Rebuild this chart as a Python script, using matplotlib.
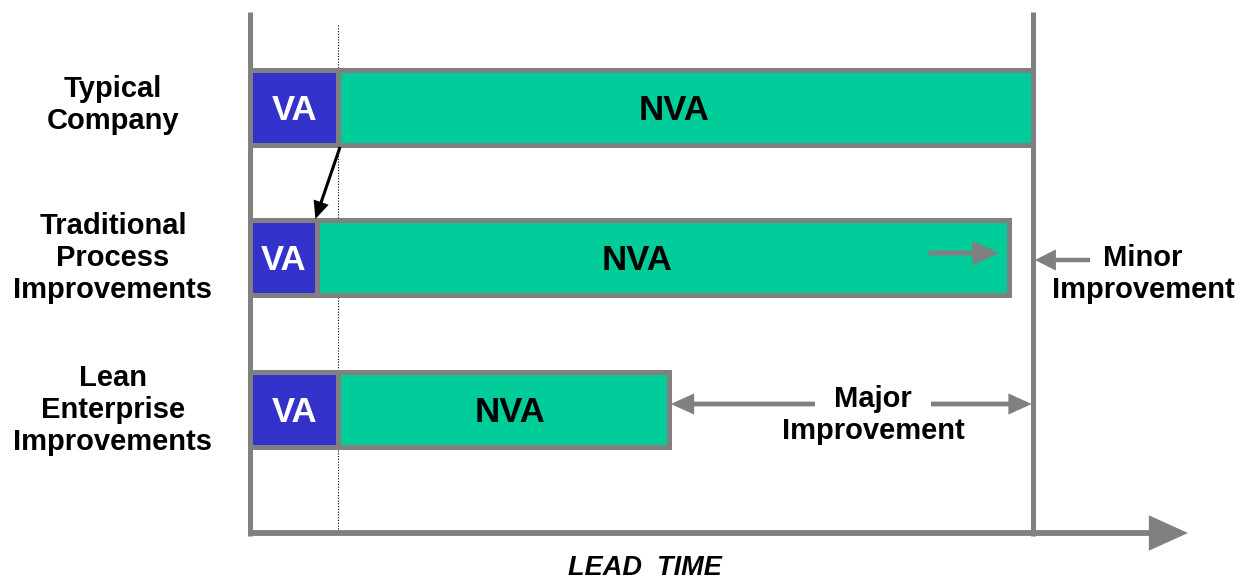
import matplotlib
matplotlib.use("Agg")
import matplotlib.pyplot as plt

plt.rcParams["font.family"] = ["Liberation Sans", "DejaVu Sans"]

# --- data -------------------------------------------------------------
categories = ["Typical\nCompany",
              "Traditional\nProcess\nImprovements",
              "Lean\nEnterprise\nImprovements"]
va_time = [11.25, 8.5, 11.25]          # value-added time
lead_time = [100.0, 97.0, 53.5]        # total lead time
segment_labels = ["VA", "NVA"]
axis_label = "LEAD  TIME"
minor_label = "Minor\nImprovement"
major_label = "Major\nImprovement"

# --- style ------------------------------------------------------------
BLUE = "#3333CC"
GREEN = "#00CC99"
GRAY = "#808080"

W, H = 1242, 580
fig = plt.figure(figsize=(W / 100, H / 100), dpi=100)
ax = fig.add_axes([0, 0, 1, 1])

# horizontal scale: time 0 sits at pixel 250.5, one time unit = 7.82 px
X0, S = 250.5, 7.82


def xd(px):
    return (px - X0) / S


ax.set_xlim(xd(0), xd(W))
ax.set_ylim(H, 0)
ax.axis("off")

rows_y = [107, 257.5, 409]
bar_h = 75
edge_lw = 3.6
nva_label_px = [674, 637, 510]


def arrow(start, end, color, lw, head_length, head_width):
    ax.annotate("", xy=end, xytext=start,
                arrowprops=dict(arrowstyle=f"-|>,head_length={head_length},"
                                           f"head_width={head_width}",
                                color=color, lw=lw, shrinkA=0, shrinkB=0,
                                capstyle="butt", joinstyle="miter"),
                zorder=6)


# stacked VA / NVA bars
for y, va, tot, nx in zip(rows_y, va_time, lead_time, nva_label_px):
    ax.barh(y, va, height=bar_h, left=0, color=BLUE,
            edgecolor=GRAY, linewidth=edge_lw, zorder=3)
    ax.barh(y, tot - va, height=bar_h, left=va, color=GREEN,
            edgecolor=GRAY, linewidth=edge_lw, zorder=3)
    ax.text(va / 2, y + 13, segment_labels[0], color="white", fontsize=25,
            fontweight="bold", ha="center", va="baseline", zorder=5)
    ax.text(xd(nx), y + 13, segment_labels[1], color="black", fontsize=25,
            fontweight="bold", ha="center", va="baseline", zorder=5)

# row labels
label_y = [105, 258, 410]
for y, lab in zip(label_y, categories):
    ax.text(xd(113), y, lab, fontsize=21, fontweight="bold", ha="center",
            va="center", linespacing=1.18, color="black")

# dotted reference at the original VA time
ax.plot([va_time[0]] * 2, [25, 533], color="black", lw=0.8,
        ls=(0, (1, 1.5)), zorder=2)

# axes frame: left axis and the typical lead-time marker
ax.plot([0, 0], [12, 536], color=GRAY, lw=3.6, solid_capstyle="butt", zorder=4)
ax.plot([lead_time[0]] * 2, [12, 536], color=GRAY, lw=3.6,
        solid_capstyle="butt", zorder=4)

# lead-time axis arrow
arrow((xd(248), 533), (xd(1188), 533), GRAY, 4.2, 2.1, 0.95)
ax.text(xd(645), 575, axis_label, fontsize=19.5, fontweight="bold",
        fontstyle="italic", ha="center", va="baseline")

# VA reduction arrow between the first two rows
arrow((va_time[0] + 0.2, 147), (va_time[1] - 0.2, 219), "black", 2.2, 0.9, 0.4)

# small shift arrow inside the traditional NVA bar
arrow((lead_time[1] - 10.3, 253), (lead_time[1] - 1.3, 253), GRAY, 3.6, 1.3, 0.6)

# minor improvement callout
arrow((xd(1090), 260), (lead_time[0] + 0.3, 260), GRAY, 3.2, 1.0, 0.5)
ax.text(xd(1143), 274, minor_label, fontsize=21, fontweight="bold",
        ha="center", va="center", linespacing=1.22)

# major improvement callout
arrow((xd(815), 404), (lead_time[2] + 0.25, 404), GRAY, 3.4, 1.1, 0.5)
arrow((xd(931), 404), (lead_time[0] - 0.1, 404), GRAY, 3.4, 1.1, 0.5)
ax.text(xd(873), 415, major_label, fontsize=21, fontweight="bold",
        ha="center", va="center", linespacing=1.22)

fig.savefig("out.png", dpi=100)
